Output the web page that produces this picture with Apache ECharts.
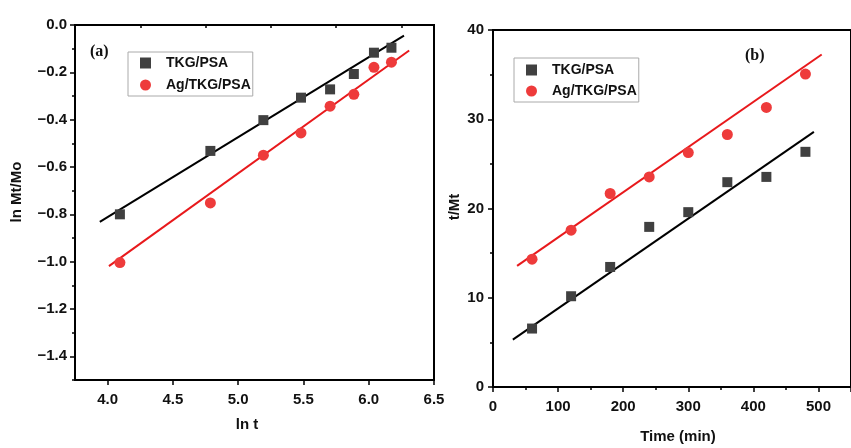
<!DOCTYPE html>
<html><head><meta charset="utf-8">
<script src="https://cdn.jsdelivr.net/npm/echarts@6/dist/echarts.min.js"></script>
<style>html,body{margin:0;padding:0;background:#fff}#c{width:851px;height:448px}</style>
</head><body><div id="c"></div>
<script>
// ---- data ----
const seriesNames = ['TKG/PSA', 'Ag/TKG/PSA'];
// panel (a)
const lnT = [4.094, 4.787, 5.193, 5.481, 5.704, 5.886, 6.040, 6.174];
const lnA_TKG = [-0.800, -0.532, -0.402, -0.307, -0.272, -0.207, -0.117, -0.096];
const lnA_Ag  = [-1.004, -0.752, -0.550, -0.456, -0.343, -0.293, -0.179, -0.157];
const fitA_x_TKG = [3.94, 6.27], fitA_y_TKG = [-0.832, -0.045];
const fitA_x_Ag  = [4.01, 6.31], fitA_y_Ag  = [-1.019, -0.108];
// panel (b)
const timeMin = [60, 120, 180, 240, 300, 360, 420, 480];
const tMt_TKG = [6.55, 10.17, 13.45, 17.94, 19.59, 22.95, 23.54, 26.35];
const tMt_Ag  = [14.32, 17.57, 21.68, 23.54, 26.27, 28.29, 31.32, 35.06];
const fitB_x_TKG = [30.5, 493], fitB_y_TKG = [5.31, 28.59];
const fitB_x_Ag  = [37, 505],   fitB_y_Ag  = [13.57, 37.26];
// tick labels
const ticksA_x = [4.0, 4.5, 5.0, 5.5, 6.0, 6.5];
const minorA_x = [3.75, 4.25, 4.75, 5.25, 5.75, 6.25];
const ticksA_y = [0, -0.2, -0.4, -0.6, -0.8, -1.0, -1.2, -1.4];
const minorA_y = [-0.1, -0.3, -0.5, -0.7, -0.9, -1.1, -1.3, -1.5];

const zip = (xs, ys) => xs.map((x, i) => [x, ys[i]]);
const FONT = 'Liberation Sans, Arial, sans-serif';
const lbl = {fontFamily: FONT, fontWeight: 'bold', fontSize: 15, color: '#111'};
const fmt1 = v => v.toFixed(1).replace('-', '\u2212');

const BLACK_PT = '#404040', RED_PT = '#ee3b3b', RED_LINE = '#e8191c';

function mainAxis(extra) {
  return Object.assign({
    type: 'value',
    axisLine: {show: true, onZero: false, lineStyle: {color: '#000', width: 2}},
    axisTick: {show: true, length: 5, lineStyle: {color: '#000', width: 1.5}},
    splitLine: {show: false}
  }, extra);
}
function minorAxis(extra) {
  return Object.assign({
    type: 'value',
    axisLine: {show: false},
    axisLabel: {show: false},
    splitLine: {show: false}
  }, extra);
}
const legendText = {fontFamily: FONT, fontWeight: 'bold', fontSize: 14, color: '#111', lineHeight: 16, padding: [0, 0, 0, 10]};

const chart = echarts.init(document.getElementById('c'), null, {renderer: 'canvas'});
chart.setOption({
  animation: false,
  backgroundColor: '#fff',
  grid: [
    {left: 75, top: 25, width: 359, height: 355, show: true, borderColor: '#000', borderWidth: 2},
    {left: 493, top: 30, right: -14, height: 357, show: true, borderColor: '#000', borderWidth: 2}
  ],
  xAxis: [
    mainAxis({gridIndex: 0, min: 3.75, max: 6.5, position: 'bottom',
      axisTick: {show: true, length: 5, customValues: ticksA_x, lineStyle: {color: '#000', width: 1.5}},
      axisLabel: Object.assign({margin: 12, customValues: ticksA_x, formatter: fmt1}, lbl)}),
    minorAxis({gridIndex: 0, min: 3.75, max: 6.5, position: 'bottom',
      axisTick: {show: true, length: 3, customValues: minorA_x, lineStyle: {color: '#000', width: 1.5}}}),
    mainAxis({gridIndex: 1, min: 0, max: 550, interval: 100, position: 'bottom',
      minorTick: {show: true, splitNumber: 2, length: 3, lineStyle: {color: '#000', width: 1.5}},
      axisLabel: Object.assign({margin: 12, showMaxLabel: false}, lbl)})
  ],
  yAxis: [
    mainAxis({gridIndex: 0, min: -1.5, max: 0, position: 'left',
      axisTick: {show: true, length: 5, customValues: ticksA_y, lineStyle: {color: '#000', width: 1.5}},
      axisLabel: Object.assign({margin: 8, customValues: ticksA_y, formatter: fmt1}, lbl)}),
    minorAxis({gridIndex: 0, min: -1.5, max: 0, position: 'left',
      axisTick: {show: true, length: 3, customValues: minorA_y, lineStyle: {color: '#000', width: 1.5}}}),
    mainAxis({gridIndex: 1, min: 0, max: 40, interval: 10, position: 'left',
      minorTick: {show: true, splitNumber: 2, length: 3, lineStyle: {color: '#000', width: 1.5}},
      axisLabel: Object.assign({margin: 9}, lbl)})
  ],
  legend: [
    {left: 128, top: 52, orient: 'vertical', padding: [3, 2, 3, 12], itemGap: 6,
     itemWidth: 11, itemHeight: 11, borderColor: '#aaa', borderWidth: 1,
     textStyle: legendText,
     data: [{name: seriesNames[0], icon: 'rect'}, {name: seriesNames[1], icon: 'circle'}]},
    {left: 514, top: 58, orient: 'vertical', padding: [4, 2, 3, 12], itemGap: 5,
     itemWidth: 11, itemHeight: 11, borderColor: '#aaa', borderWidth: 1,
     textStyle: legendText,
     data: [{name: seriesNames[0], icon: 'rect'}, {name: seriesNames[1], icon: 'circle'}]}
  ],
  graphic: [
    {type: 'text', left: 90, top: 44, style: {text: '(a)', font: 'bold 16px "Liberation Serif", "Times New Roman", serif', fill: '#111'}},
    {type: 'text', left: 745, top: 48, style: {text: '(b)', font: 'bold 16px "Liberation Serif", "Times New Roman", serif', fill: '#111'}},
    {type: 'text', x: 17, y: 192, rotation: Math.PI / 2,
     style: {text: 'ln Mt/Mo', font: 'bold 15px "Liberation Sans", Arial, sans-serif', fill: '#111', align: 'center', verticalAlign: 'middle'}},
    {type: 'text', x: 247, y: 425,
     style: {text: 'ln t', font: 'bold 15px "Liberation Sans", Arial, sans-serif', fill: '#111', align: 'center', verticalAlign: 'middle'}},
    {type: 'text', x: 455, y: 207, rotation: Math.PI / 2,
     style: {text: 't/Mt', font: 'bold 15px "Liberation Sans", Arial, sans-serif', fill: '#111', align: 'center', verticalAlign: 'middle'}},
    {type: 'text', x: 678, y: 437,
     style: {text: 'Time (min)', font: 'bold 15px "Liberation Sans", Arial, sans-serif', fill: '#111', align: 'center', verticalAlign: 'middle'}}
  ],
  series: [
    {type: 'line', name: 'fitA1', xAxisIndex: 0, yAxisIndex: 0, data: zip(fitA_x_TKG, fitA_y_TKG), symbol: 'none', lineStyle: {color: '#000', width: 2}, z: 2},
    {type: 'line', name: 'fitA2', xAxisIndex: 0, yAxisIndex: 0, data: zip(fitA_x_Ag, fitA_y_Ag), symbol: 'none', lineStyle: {color: RED_LINE, width: 2}, z: 2},
    {type: 'line', name: 'fitB1', xAxisIndex: 2, yAxisIndex: 2, data: zip(fitB_x_TKG, fitB_y_TKG), symbol: 'none', lineStyle: {color: '#000', width: 2}, z: 2},
    {type: 'line', name: 'fitB2', xAxisIndex: 2, yAxisIndex: 2, data: zip(fitB_x_Ag, fitB_y_Ag), symbol: 'none', lineStyle: {color: RED_LINE, width: 2}, z: 2},
    {type: 'scatter', name: seriesNames[0], xAxisIndex: 0, yAxisIndex: 0, data: zip(lnT, lnA_TKG), symbol: 'rect', symbolSize: 10, itemStyle: {color: BLACK_PT, opacity: 1}, z: 3},
    {type: 'scatter', name: seriesNames[1], xAxisIndex: 0, yAxisIndex: 0, data: zip(lnT, lnA_Ag), symbol: 'circle', symbolSize: 11, itemStyle: {color: RED_PT, opacity: 1}, z: 3},
    {type: 'scatter', name: seriesNames[0], xAxisIndex: 2, yAxisIndex: 2, data: zip(timeMin, tMt_TKG), symbol: 'rect', symbolSize: 10, itemStyle: {color: BLACK_PT, opacity: 1}, z: 3},
    {type: 'scatter', name: seriesNames[1], xAxisIndex: 2, yAxisIndex: 2, data: zip(timeMin, tMt_Ag), symbol: 'circle', symbolSize: 11, itemStyle: {color: RED_PT, opacity: 1}, z: 3}
  ]
});
</script>
</body></html>
